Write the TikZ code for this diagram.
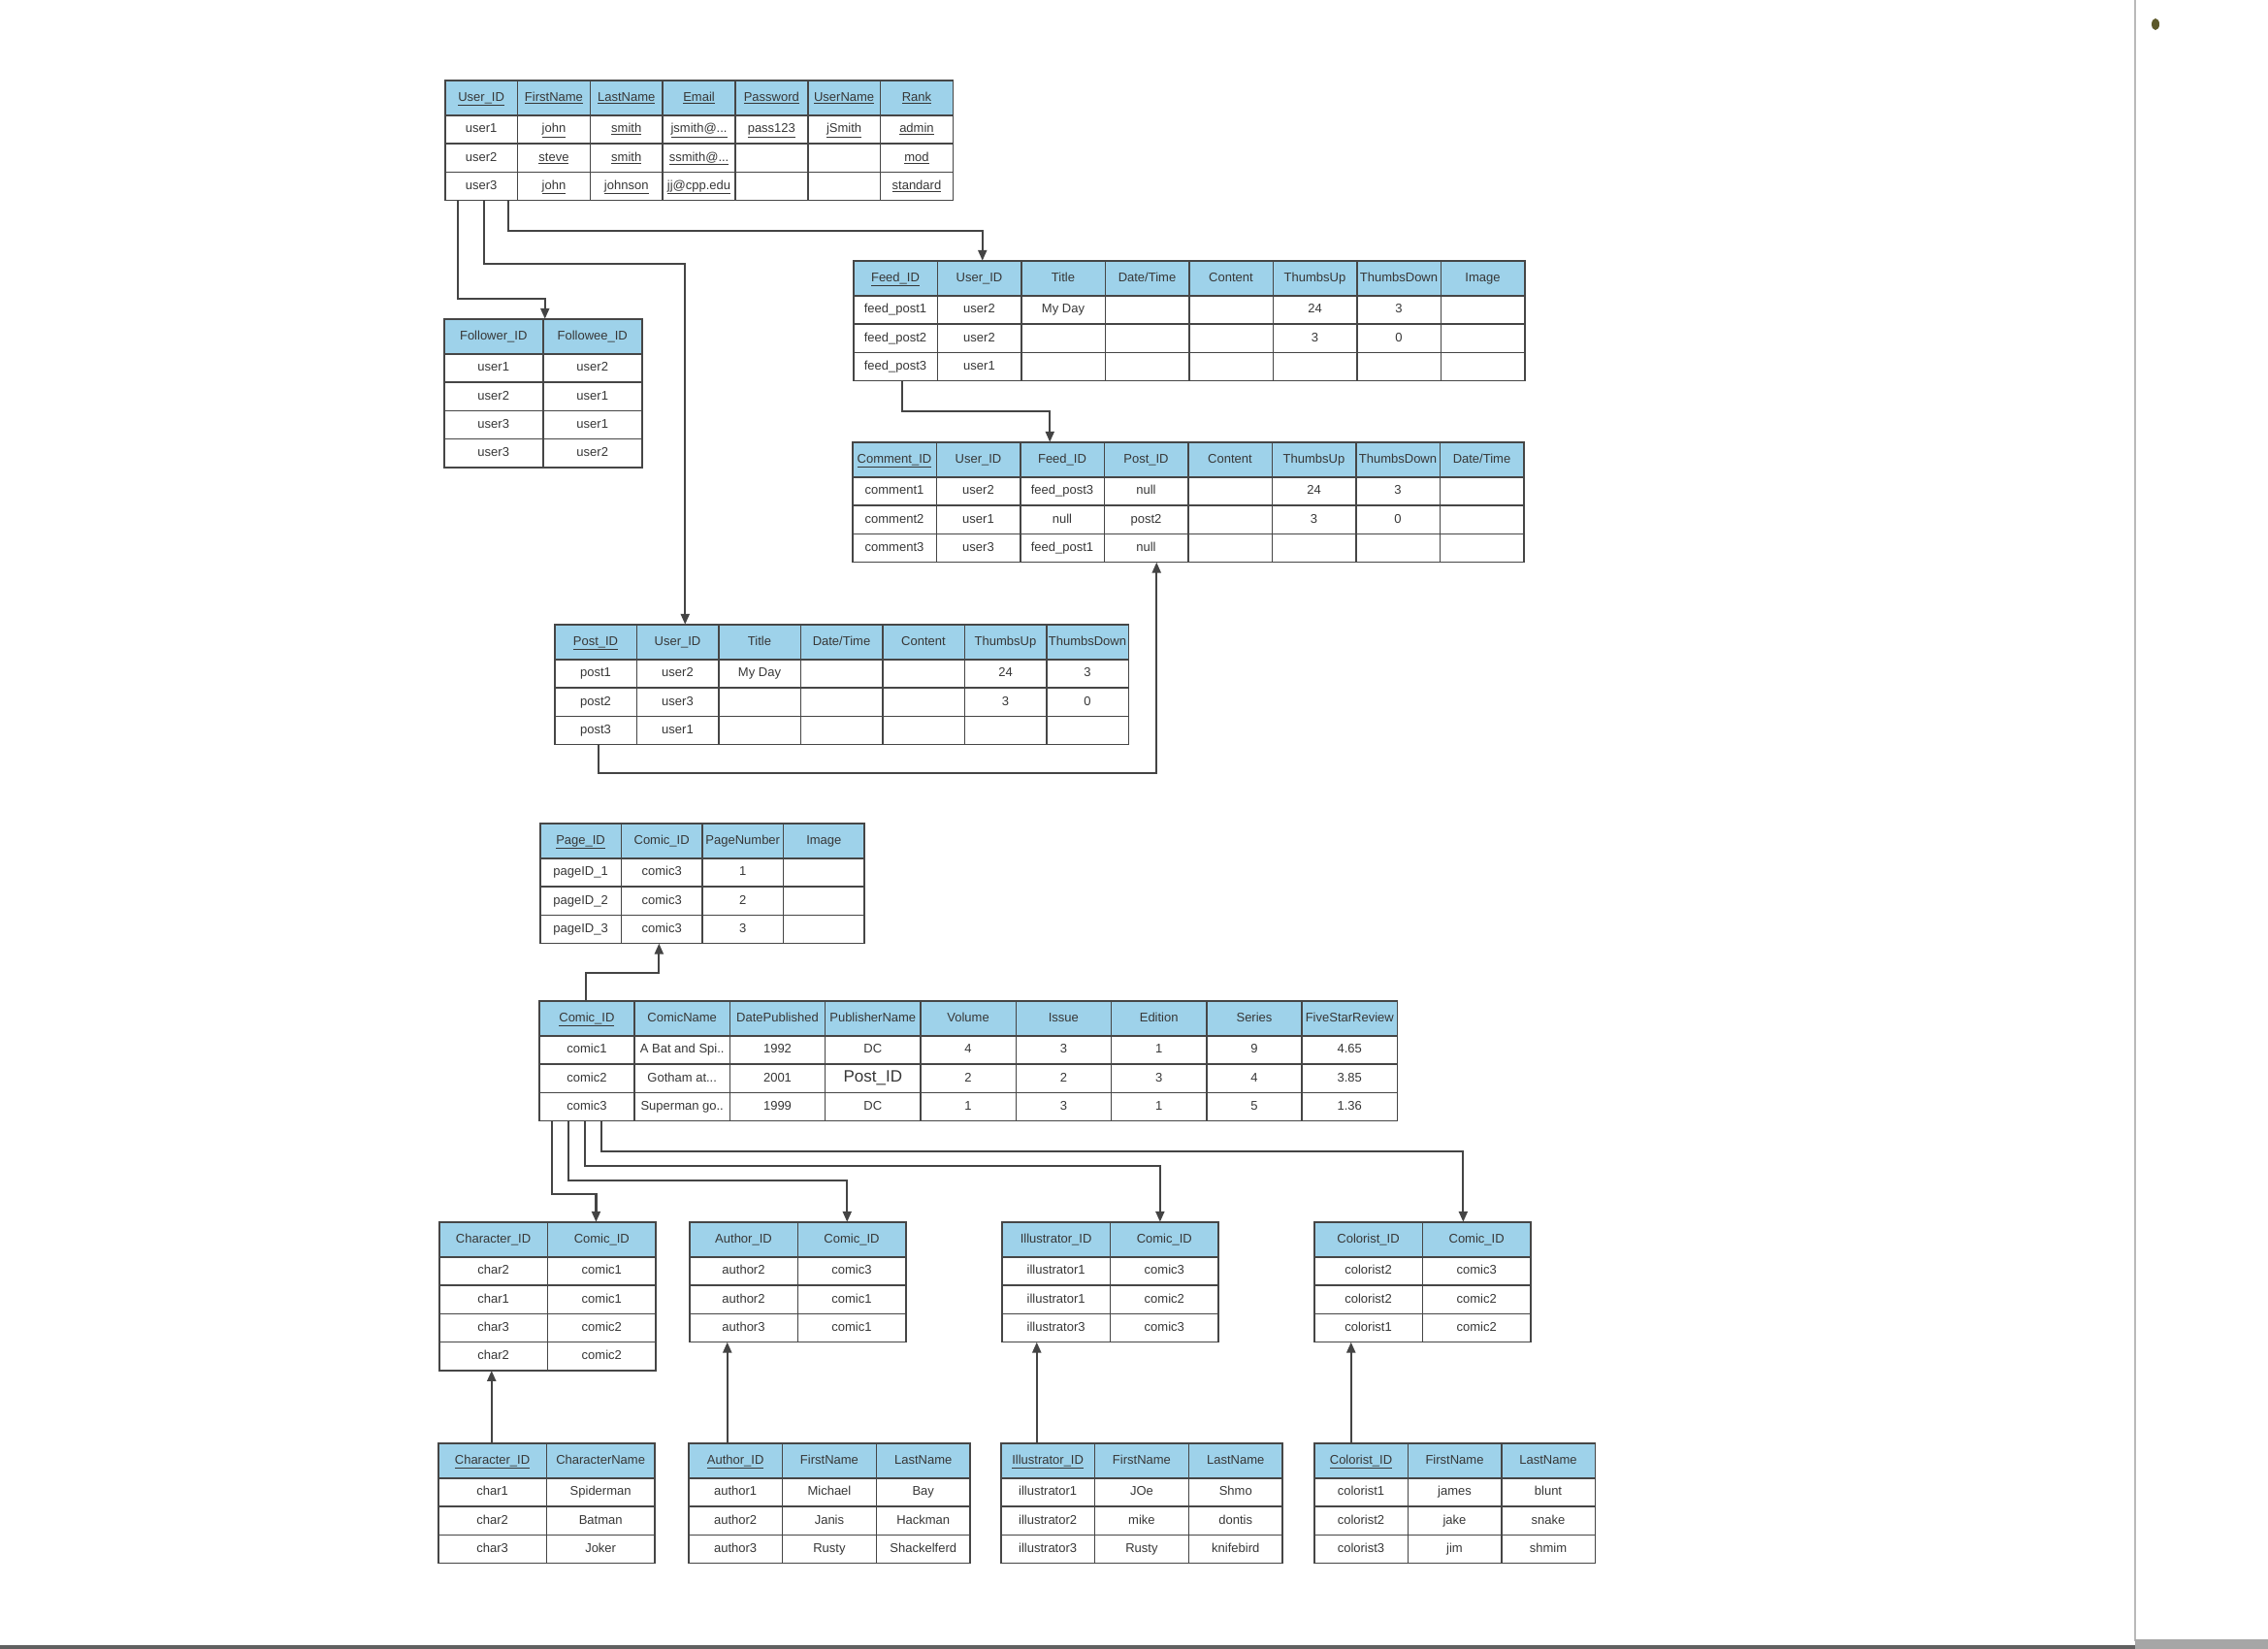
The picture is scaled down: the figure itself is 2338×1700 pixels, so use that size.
\documentclass[tikz,border=0pt]{standalone}
\usepackage{fontspec}
\setmainfont{Liberation Sans}
\usetikzlibrary{matrix,arrows.meta}
\definecolor{hdr}{RGB}{158,210,234}
\definecolor{gridc}{RGB}{70,70,70}
\definecolor{txt}{RGB}{55,55,55}
\definecolor{linec}{RGB}{68,68,68}
\newcommand{\pk}[1]{\underline{#1}}
\newcommand{\cellfont}{\fontsize{13}{15}\selectfont}
\tikzset{
  tbl/.style={matrix of nodes, nodes in empty cells, anchor=north west,
    inner sep=0pt, outer sep=0pt, column sep=-1.5pt, row sep=-1.5pt,
    nodes={draw=gridc, line width=1.5pt, outer sep=0pt, inner xsep=1pt, inner ysep=0pt,
      minimum height=29.3pt, text height=9.5pt, text depth=2.5pt, text=txt, font=\cellfont},
    row 1/.style={nodes={fill=hdr, minimum height=36pt}}},
  colw/.style={nodes={minimum width=#1}},
  link/.style={draw=linec, line width=2.2pt, -{Triangle[length=11pt,width=9pt]}}
}
\begin{document}
\begin{tikzpicture}[x=1pt,y=-1pt]
    \useasboundingbox (0,0) rectangle (2338,1700);
    \fill[white] (0,0) rectangle (2338,1700);
    \draw[gray!55, line width=1.5pt] (2201,0) -- (2201,1692);
    \fill[gray!75!black] (0,1696) rectangle (2201,1700);
    \fill[gray!70] (2201,1690) rectangle (2338,1700);
    \fill[olive!55!black] (2222,25) ellipse (4pt and 6pt);

    \matrix (user) [tbl, colw=74.8pt] at (458,82) {
      \pk{User\_ID} & \pk{FirstName} & \pk{LastName} & \pk{Email} & \pk{Password} & \pk{UserName} & \pk{Rank} \\
      user1 & \pk{john} & \pk{smith} & \pk{jsmith@...} & \pk{pass123} & \pk{jSmith} & \pk{admin} \\
      user2 & \pk{steve} & \pk{smith} & \pk{ssmith@...} & & & \pk{mod} \\
      user3 & \pk{john} & \pk{johnson} & \pk{jj@cpp.edu} & & & \pk{standard} \\
    };

    \matrix (follow) [tbl, colw=102pt] at (457,328) {
      Follower\_ID & Followee\_ID \\
      user1 & user2 \\
      user2 & user1 \\
      user3 & user1 \\
      user3 & user2 \\
    };

    \matrix (feed) [tbl, colw=86.5pt] at (879,268) {
      \pk{Feed\_ID} & User\_ID & Title & Date/Time & Content & ThumbsUp & ThumbsDown & Image \\
      feed\_post1 & user2 & My Day & & & 24 & 3 & \\
      feed\_post2 & user2 & & & & 3 & 0 & \\
      feed\_post3 & user1 & & & & & & \\
    };

    \matrix (comment) [tbl, colw=86.5pt] at (878,455) {
      \pk{Comment\_ID} & User\_ID & Feed\_ID & Post\_ID & Content & ThumbsUp & ThumbsDown & Date/Time \\
      comment1 & user2 & feed\_post3 & null & & 24 & 3 & \\
      comment2 & user1 & null & post2 & & 3 & 0 & \\
      comment3 & user3 & feed\_post1 & null & & & & \\
    };

    \matrix (post) [tbl, colw=84.5pt] at (571,643) {
      \pk{Post\_ID} & User\_ID & Title & Date/Time & Content & ThumbsUp & ThumbsDown \\
      post1 & user2 & My Day & & & 24 & 3 \\
      post2 & user3 & & & & 3 & 0 \\
      post3 & user1 & & & & & \\
    };

    \matrix (page) [tbl, colw=83.6pt] at (556,848) {
      \pk{Page\_ID} & Comic\_ID & PageNumber & Image \\
      pageID\_1 & comic3 & 1 & \\
      pageID\_2 & comic3 & 2 & \\
      pageID\_3 & comic3 & 3 & \\
    };

    \matrix (comic) [tbl, colw=98.3pt] at (555,1031) {
      \pk{Comic\_ID} & ComicName & DatePublished & PublisherName & Volume & Issue & Edition & Series & FiveStarReview \\
      comic1 & A Bat and Spi.. & 1992 & DC & 4 & 3 & 1 & 9 & 4.65 \\
      comic2 & Gotham at... & 2001 & |[font=\fontsize{17}{19}\selectfont]| Post\_ID & 2 & 2 & 3 & 4 & 3.85 \\
      comic3 & Superman go.. & 1999 & DC & 1 & 3 & 1 & 5 & 1.36 \\
    };

    \matrix (chrlink) [tbl, colw=111.7pt] at (452,1259) {
      Character\_ID & Comic\_ID \\
      char2 & comic1 \\
      char1 & comic1 \\
      char3 & comic2 \\
      char2 & comic2 \\
    };

    \matrix (authlink) [tbl, colw=111.5pt] at (710,1259) {
      Author\_ID & Comic\_ID \\
      author2 & comic3 \\
      author2 & comic1 \\
      author3 & comic1 \\
    };

    \matrix (illlink) [tbl, colw=111.7pt] at (1032,1259) {
      Illustrator\_ID & Comic\_ID \\
      illustrator1 & comic3 \\
      illustrator1 & comic2 \\
      illustrator3 & comic3 \\
    };

    \matrix (collink) [tbl, colw=111.6pt] at (1354,1259) {
      Colorist\_ID & Comic\_ID \\
      colorist2 & comic3 \\
      colorist2 & comic2 \\
      colorist1 & comic2 \\
    };

    \matrix (chr) [tbl, colw=111.6pt] at (451,1487) {
      \pk{Character\_ID} & CharacterName \\
      char1 & Spiderman \\
      char2 & Batman \\
      char3 & Joker \\
    };

    \matrix (auth) [tbl, colw=96.8pt] at (709,1487) {
      \pk{Author\_ID} & FirstName & LastName \\
      author1 & Michael & Bay \\
      author2 & Janis & Hackman \\
      author3 & Rusty & Shackelferd \\
    };

    \matrix (ill) [tbl, colw=96.8pt] at (1031,1487) {
      \pk{Illustrator\_ID} & FirstName & LastName \\
      illustrator1 & JOe & Shmo \\
      illustrator2 & mike & dontis \\
      illustrator3 & Rusty & knifebird \\
    };

    \matrix (col) [tbl, colw=96.5pt] at (1354,1487) {
      \pk{Colorist\_ID} & FirstName & LastName \\
      colorist1 & james & blunt \\
      colorist2 & jake & snake \\
      colorist3 & jim & shmim \\
    };

    \draw[link] ([xshift=13pt]user-4-1.south west) |- ([xshift=2pt,yshift=21pt]follow-1-2.north west) -- ([xshift=2pt]follow-1-2.north west);
    \draw[link] ([xshift=40pt]user-4-1.south west) |- ([xshift=50pt,yshift=372pt]post-1-2.north west) -- ([xshift=50pt]post-1-2.north west);
    \draw[link] ([xshift=65pt]user-4-1.south west) |- ([xshift=46.5pt,yshift=31pt]feed-1-2.north west) -- ([xshift=46.5pt]feed-1-2.north west);
    \draw[link] ([xshift=50pt]feed-4-1.south west) |- ([xshift=30.5pt,yshift=32pt]comment-1-3.north west) -- ([xshift=30.5pt]comment-1-3.north west);
    \draw[link] ([xshift=45pt]post-4-1.south west) |- ([xshift=54pt,yshift=-217pt]comment-4-4.south west) -- ([xshift=54pt]comment-4-4.south west);

    \draw[link] ([xshift=48pt]comic-1-1.north west) |- ([xshift=39pt,yshift=-30pt]page-4-2.south west) -- ([xshift=39pt]page-4-2.south west);
    \draw[link] ([xshift=13.5pt]comic-4-1.south west) |- ([xshift=50pt,yshift=29pt]chrlink-1-2.north west) -- ([xshift=50pt]chrlink-1-2.north west);
    \draw[link] ([xshift=30.5pt]comic-4-1.south west) |- ([xshift=51pt,yshift=43pt]authlink-1-2.north west) -- ([xshift=51pt]authlink-1-2.north west);
    \draw[link] ([xshift=47pt]comic-4-1.south west) |- ([xshift=51.4pt,yshift=58pt]illlink-1-2.north west) -- ([xshift=51.4pt]illlink-1-2.north west);
    \draw[link] ([xshift=64.5pt]comic-4-1.south west) |- ([xshift=42pt,yshift=73pt]collink-1-2.north west) -- ([xshift=42pt]collink-1-2.north west);

    \draw[link] ([xshift=55pt]chr-1-1.north west) -- ([xshift=54pt]chrlink-5-1.south west);
    \draw[link] ([xshift=40pt]auth-1-1.north west) -- ([xshift=39pt]authlink-4-1.south west);
    \draw[link] ([xshift=37pt]ill-1-1.north west) -- ([xshift=36pt]illlink-4-1.south west);
    \draw[link] ([xshift=38pt]col-1-1.north west) -- ([xshift=38pt]collink-4-1.south west);
\end{tikzpicture}
\end{document}
